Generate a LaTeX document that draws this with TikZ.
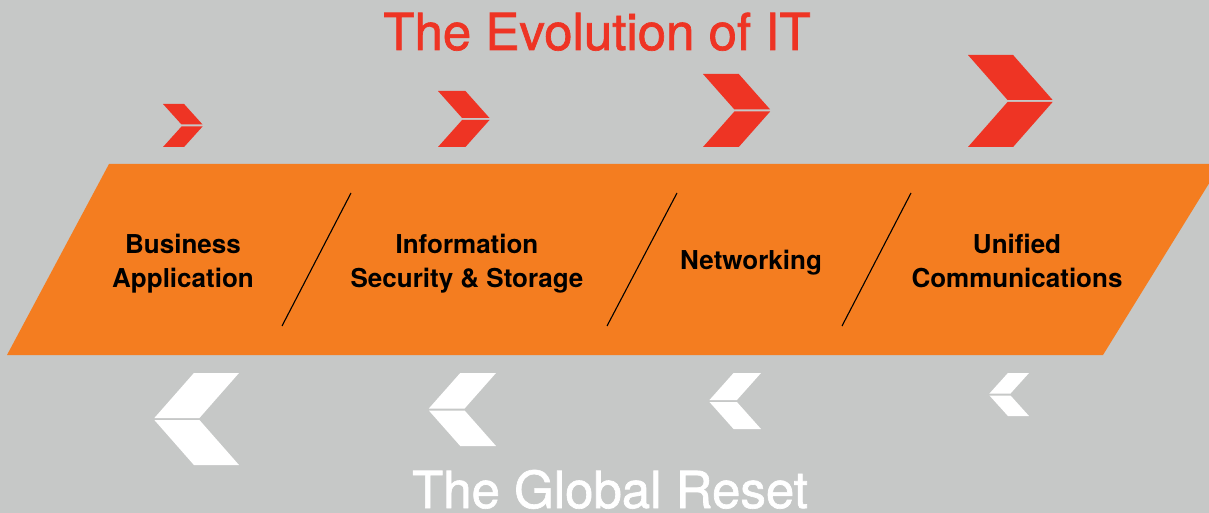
\documentclass[tikz,border=0pt]{standalone}
\usepackage{fontspec}
\setmainfont{TeX Gyre Heros}
\newfontfamily\headfont[FakeBold=1.3]{TeX Gyre Heros}
\usetikzlibrary{positioning}
\definecolor{bggray}{HTML}{C6C8C7}
\definecolor{itorange}{HTML}{F47D20}
\definecolor{itred}{HTML}{EE3424}

\begin{document}
\begin{tikzpicture}[
	x = 0.5pt, y = -0.5pt,
	every node/.style = {
		inner sep = 0pt
	},
	heading/.style = {
		font = \headfont\fontsize{25.5}{30}\selectfont,
		anchor = base
	},
	stage/.style = {
		font = \fontsize{13}{17}\selectfont\bfseries,
		align = center,
		anchor = base
	},
	divider/.style = {
		line width = 0.55pt
	},
	fwdchev/.style = {
		fill = itred
	},
	backchev/.style = {
		fill = white
	}
	]
	
	\fill[bggray] (0,0) rectangle (1209,513);
	\clip (0,0) rectangle (1209,513);
	
	% band
	\fill[itorange] (109,164) -- (1221,164) -- (1103,355) -- (7,355) -- cycle;
	
	% forward chevrons
	\foreach \x/\h in {163/43, 438/56, 703/73, 968/92} {
		\fill[fwdchev] (\x,{147-\h}) -- ++({0.49*\h},0) -- ++({0.43*\h},{0.5*\h-1}) -- ++({-0.49*\h},0) -- cycle;
		\fill[fwdchev] ({\x+0.43*\h},{147-0.5*\h+1}) -- ++({0.49*\h},0) -- ++({-0.43*\h},{0.5*\h-1}) -- ++({-0.49*\h},0) -- cycle;
	}
	
	% backward chevrons
	\foreach \x/\h in {239/92, 496/73, 761/56, 1029/43} {
		\fill[backchev] (\x,373) -- ++({-0.49*\h},0) -- ++({-0.43*\h},{0.5*\h-1}) -- ++({0.49*\h},0) -- cycle;
		\fill[backchev] ({\x-0.43*\h},{373+0.5*\h+1}) -- ++({-0.49*\h},0) -- ++({0.43*\h},{0.5*\h-1}) -- ++({0.49*\h},0) -- cycle;
	}
	
	\draw[divider] (351,193) -- (282,326);
	\draw[divider] (677,193) -- (607,326);
	\draw[divider] (911,193) -- (842,326);
	
	\node[heading, text = itred] (evolution) at (597,50) {The Evolution of IT};
	\node[heading, text = white] (reset) at (610,508) {The Global Reset};
	
	\node[stage] (business) at (183,287) {Business\\Application};
	\node[stage] (infosec) at (467,287) {Information\\Security \& Storage};
	\node[stage] (networking) at (751,270) {Networking};
	\node[stage] (unified) at (1017,287) {Unified\\Communications};
	
\end{tikzpicture}
\end{document}
